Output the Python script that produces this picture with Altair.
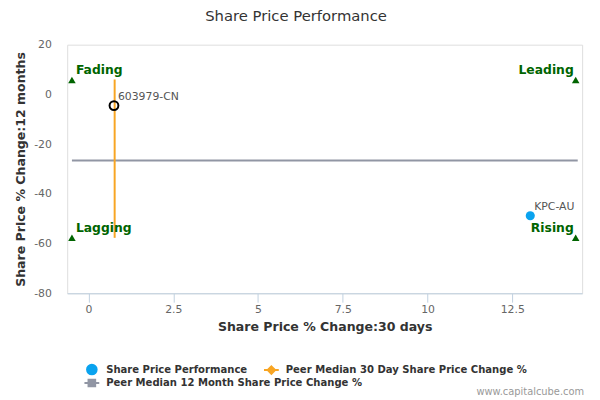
import altair as alt
import pandas as pd

# ---- data ----
companies = ["603979-CN", "KPC-AU"]
comp_x = [0.75, 13.03]
comp_y = [-4.5, -48.8]

peer30_x = [0.77]
peer30_y_lo = [-57.7]
peer30_y_hi = [6.0]

peer12_y = [-26.6]
peer12_x_lo = [-0.49]
peer12_x_hi = [14.43]

quad_labels = ["Fading", "Leading", "Lagging", "Rising"]
quad_x = [-0.49, 14.37, -0.49, 14.37]
quad_y = [5.8, 5.8, -57.7, -57.7]
quad_side = ["left", "right", "left", "right"]

series = [
    "Share Price Performance",
    "Peer Median 30 Day Share Price Change %",
    "Peer Median 12 Month Share Price Change %",
]
series_colors = ["#0aa3ef", "#f8a523", "#9196a4"]

x_ticks = [0, 2.5, 5, 7.5, 10, 12.5]
y_ticks = [-80, -60, -40, -20, 0, 20]
x_domain = [-0.63, 14.56]
y_domain = [-80, 20]

FONT = "DejaVu Sans"
GREEN = "#006400"

# ---- tables ----
comp_df = pd.DataFrame({"name": companies, "x": comp_x, "y": comp_y})
subj_df = comp_df[comp_df["name"] == "603979-CN"]
peer_df = comp_df[comp_df["name"] == "KPC-AU"]
p30_df = pd.DataFrame({"x": peer30_x, "y": peer30_y_lo, "y2": peer30_y_hi})
p12_df = pd.DataFrame({"y": peer12_y, "x": peer12_x_lo, "x2": peer12_x_hi})
quad_df = pd.DataFrame({"label": quad_labels, "x": quad_x, "y": quad_y, "side": quad_side})
wm_df = pd.DataFrame({"t": ["www.capitalcube.com"]})


def X():
    return alt.X(
        "x:Q",
        scale=alt.Scale(domain=x_domain, nice=False, zero=False),
        axis=alt.Axis(
            values=x_ticks,
            labelExpr="'' + datum.value",
            grid=False,
            domainColor="#C0D0E0",
            tickColor="#C0D0E0",
            tickSize=9,
            labelPadding=2,
            labelColor="#666666",
            labelFontSize=11,
            labelFont=FONT,
            labelFlush=False,
            labelOverlap=False,
            title="Share Price % Change:30 days",
            titleFont=FONT,
            titleFontSize=12.7,
            titleFontWeight="bold",
            titleColor="#333333",
            titlePadding=6,
        ),
    )


def Y():
    return alt.Y(
        "y:Q",
        scale=alt.Scale(domain=y_domain, nice=False, zero=False),
        axis=alt.Axis(
            values=y_ticks,
            labelExpr="'' + datum.value",
            grid=False,
            domain=False,
            ticks=False,
            tickSize=0,
            labelPadding=16,
            labelColor="#666666",
            labelFontSize=11,
            labelFont=FONT,
            title="Share Price % Change:12 months",
            titleFont=FONT,
            titleFontSize=12.7,
            titleFontWeight="bold",
            titleColor="#333333",
            titlePadding=6,
        ),
    )


grey_rule = alt.Chart(p12_df).mark_rule(color=series_colors[2], strokeWidth=2).encode(
    x=X(), x2="x2:Q", y=Y()
)
orange_rule = alt.Chart(p30_df).mark_rule(color=series_colors[1], strokeWidth=2).encode(
    x=X(), y=Y(), y2="y2:Q"
)

triangles = alt.Chart(quad_df).mark_point(
    shape="triangle-up", filled=True, color=GREEN, size=58, opacity=1
).encode(x=X(), y=Y())

quad_left = alt.Chart(quad_df).transform_filter(alt.datum.side == "left").mark_text(
    align="left", baseline="middle", dx=4, dy=-10, font=FONT, fontSize=12.5,
    fontWeight="bold", color=GREEN
).encode(x=X(), y=Y(), text="label:N")

quad_right = alt.Chart(quad_df).transform_filter(alt.datum.side == "right").mark_text(
    align="right", baseline="middle", dx=-2, dy=-10, font=FONT, fontSize=12.5,
    fontWeight="bold", color=GREEN
).encode(x=X(), y=Y(), text="label:N")

subj_pt = alt.Chart(subj_df).mark_point(
    shape="circle", filled=False, color="#000000", strokeWidth=2, size=80, opacity=1
).encode(x=X(), y=Y())

peer_pt = alt.Chart(peer_df).mark_circle(
    color=series_colors[0], size=85, opacity=1
).encode(x=X(), y=Y())

pt_labels = alt.Chart(comp_df).mark_text(
    align="left", baseline="middle", dx=4, dy=-8.5, font=FONT, fontSize=11, color="#555555"
).encode(x=X(), y=Y(), text="name:N")

shape_paths = [
    "M0.65,0A0.65,0.65,0,1,1,-0.65,0A0.65,0.65,0,1,1,0.65,0Z",
    "M-1,0L-0.5,0M0.5,0L1,0M0,-0.5L0.5,0L0,0.5L-0.5,0Z",
    "M-1,0L-0.5,0M0.5,0L1,0M-0.45,-0.45L0.45,-0.45L0.45,0.45L-0.45,0.45Z",
]


def legend_spec(ly):
    return alt.Legend(
        orient="none",
        legendX=16.5,
        legendY=ly,
        direction="horizontal",
        title=None,
        labelFont=FONT,
        labelFontSize=10.2,
        labelFontWeight="bold",
        labelColor="#333333",
        labelLimit=400,
        labelOffset=6,
        symbolSize=225,
        symbolStrokeWidth=2,
        columnPadding=13,
        rowPadding=0,
        padding=0,
    )


def legend_layer(idx, ly):
    dom = [series[i] for i in idx]
    cols = [series_colors[i] for i in idx]
    shp = [shape_paths[i] for i in idx]
    df = pd.DataFrame({"series": dom})
    lg = legend_spec(ly)
    return alt.Chart(df).transform_filter(alt.datum.series == "none").mark_point(
        filled=True, size=225, strokeWidth=2, opacity=1
    ).encode(
        fill=alt.Fill("series:N", scale=alt.Scale(domain=dom, range=cols), legend=lg),
        stroke=alt.Stroke("series:N", scale=alt.Scale(domain=dom, range=cols), legend=lg),
        shape=alt.Shape("series:N", scale=alt.Scale(domain=dom, range=shp), legend=lg),
    )


legend_row1 = legend_layer([0, 1], 320.5)
legend_row2 = legend_layer([2], 334.5)

watermark = alt.Chart(wm_df).mark_text(
    align="right", baseline="middle", font=FONT, fontSize=10, color="#999999"
).encode(x=alt.value(524), y=alt.value(352), text="t:N")

chart = alt.layer(
    grey_rule, orange_rule, triangles, quad_left, quad_right,
    subj_pt, peer_pt, pt_labels, legend_row1, legend_row2, watermark
).resolve_scale(
    fill="independent", stroke="independent", shape="independent"
).properties(
    width=522,
    height=252,
    padding={"left": 60, "top": 34.5, "right": 10, "bottom": 105},
    autosize=alt.AutoSizeParams(type="none"),
    title=alt.TitleParams(
        "Share Price Performance",
        font=FONT,
        fontSize=15,
        fontWeight="normal",
        color="#333333",
        anchor="middle",
        frame="group",
        dx=-29,
        offset=15,
    ),
).configure_view(stroke=None).configure(background="white")

chart.save("out.html", embed_options={"renderer": "svg", "actions": False})
